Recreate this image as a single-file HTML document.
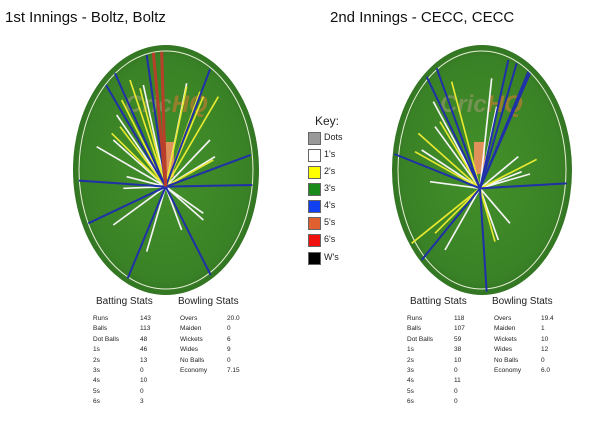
<!DOCTYPE html>
<html><head><style>
body{margin:0;background:#fff;width:614px;height:435px;overflow:hidden;font-family:"Liberation Sans",Arial,sans-serif;position:relative}
.t{position:absolute;font-size:15px;color:#111}
.s{position:absolute;font-size:10px;color:#222}
.r{position:absolute;font-size:6.5px;color:#222;line-height:10.4px}
.k{position:absolute;font-size:9px;color:#222}
.b{position:absolute;width:11px;height:11px;border:1px solid #666;left:308px}
</style></head><body>
<div class="t" style="left:5px;top:9px">1st Innings - Boltz, Boltz</div>
<div class="t" style="left:330px;top:9px">2nd Innings - CECC, CECC</div>
<svg width="614" height="435" style="position:absolute;left:0;top:0">
<defs><radialGradient id="g" cx="50%" cy="50%" r="55%"><stop offset="0" stop-color="#43902a"/><stop offset="0.8" stop-color="#3a8226"/><stop offset="1" stop-color="#2c6a20"/></radialGradient></defs>
<ellipse cx="166" cy="170" rx="93" ry="125" fill="url(#g)"/>
<ellipse cx="166" cy="170" rx="87" ry="119" fill="none" stroke="#e8f0d8" stroke-width="1"/>
<text x="125" y="112" font-size="24" font-weight="bold" fill="#9a9a70" opacity="0.6" font-style="italic">Cric<tspan fill="#d07a30">HQ</tspan></text>
<rect x="165" y="142" width="9" height="35" fill="#e0905a"/>
<ellipse cx="482" cy="170" rx="90" ry="125" fill="url(#g)"/>
<ellipse cx="482" cy="170" rx="84" ry="119" fill="none" stroke="#e8f0d8" stroke-width="1"/>
<text x="440" y="112" font-size="24" font-weight="bold" fill="#9a9a70" opacity="0.6" font-style="italic">Cric<tspan fill="#d07a30">HQ</tspan></text>
<rect x="474" y="142" width="11" height="32" fill="#e0905a"/>
<g transform="translate(0,30) scale(0.33333)" stroke-width="5" fill="none">
<g stroke="#f4f4f4">
<path d="M497 470L290 350M497 470L430 165M497 470L560 160M497 470L350 255M497 470L630 330M497 470L645 380M497 470L340 585M497 470L440 665M497 470L545 600M497 470L610 570M497 470L610 550M497 470L370 475M497 470L380 440M497 470L340 330"/></g>
<g stroke="#e8e830">
<path d="M497 470L390 150M497 470L420 175M497 470L600 185M497 470L610 200M497 470L655 200M497 470L560 170M497 470L335 310M497 470L360 290M497 470L640 390M497 470L365 210"/></g>
<g stroke="#2030a8" stroke-width="6">
<path d="M497 470L440 75M497 470L345 130M497 470L318 165M497 470L630 118M497 470L752 375M497 470L237 452M497 470L757 465M497 470L265 580M497 470L383 745M497 470L632 735"/></g>
<g stroke="#b8402a" stroke-width="9"><path d="M497 470L460 68M497 470L485 65"/></g>
</g>
<g transform="translate(300,30) scale(0.33333)" stroke-width="5" fill="none">
<g stroke="#f4f4f4">
<path d="M540 475L575 145M540 475L400 215M540 475L405 290M540 475L365 360M540 475L390 455M540 475L655 380M540 475L690 432M540 475L665 425M540 475L630 580M540 475L435 660M540 475L595 630M540 475L590 230"/></g>
<g stroke="#e8e830">
<path d="M540 475L455 155M540 475L355 310M540 475L345 365M540 475L710 388M540 475L335 640M540 475L585 635M540 475L405 610M540 475L420 275"/></g>
<g stroke="#2030a8" stroke-width="6">
<path d="M540 475L380 140M540 475L410 115M540 475L625 90M540 475L650 100M540 475L685 125M540 475L690 130M540 475L283 372M540 475L800 460M540 475L365 690M540 475L560 785"/></g>
</g>
</svg>
<div class="k" style="left:315px;top:114px;font-size:12px">Key:</div>
<div class="b" style="top:132px;background:#999"></div><div class="k" style="left:324px;top:132px">Dots</div>
<div class="b" style="top:149px;background:#fff"></div><div class="k" style="left:324px;top:149px">1's</div>
<div class="b" style="top:166px;background:#ff0"></div><div class="k" style="left:324px;top:166px">2's</div>
<div class="b" style="top:183px;background:#1a8a1a"></div><div class="k" style="left:324px;top:183px">3's</div>
<div class="b" style="top:200px;background:#1040f0"></div><div class="k" style="left:324px;top:200px">4's</div>
<div class="b" style="top:217px;background:#e06030"></div><div class="k" style="left:324px;top:217px">5's</div>
<div class="b" style="top:234px;background:#f01010"></div><div class="k" style="left:324px;top:234px">6's</div>
<div class="b" style="top:252px;background:#000"></div><div class="k" style="left:324px;top:252px">W's</div>

<div class="s" style="left:96px;top:296px">Batting Stats</div>
<div class="s" style="left:178px;top:296px">Bowling Stats</div>
<div class="r" style="left:93px;top:314px">Runs<br>Balls<br>Dot Balls<br>1s<br>2s<br>3s<br>4s<br>5s<br>6s</div>
<div class="r" style="left:140px;top:314px">143<br>113<br>48<br>46<br>13<br>0<br>10<br>0<br>3</div>
<div class="r" style="left:180px;top:314px">Overs<br>Maiden<br>Wickets<br>Wides<br>No Balls<br>Economy</div>
<div class="r" style="left:227px;top:314px">20.0<br>0<br>6<br>9<br>0<br>7.15</div>

<div class="s" style="left:410px;top:296px">Batting Stats</div>
<div class="s" style="left:492px;top:296px">Bowling Stats</div>
<div class="r" style="left:407px;top:314px">Runs<br>Balls<br>Dot Balls<br>1s<br>2s<br>3s<br>4s<br>5s<br>6s</div>
<div class="r" style="left:454px;top:314px">118<br>107<br>59<br>38<br>10<br>0<br>11<br>0<br>0</div>
<div class="r" style="left:494px;top:314px">Overs<br>Maiden<br>Wickets<br>Wides<br>No Balls<br>Economy</div>
<div class="r" style="left:541px;top:314px">19.4<br>1<br>10<br>12<br>0<br>6.0</div>
</body></html>
